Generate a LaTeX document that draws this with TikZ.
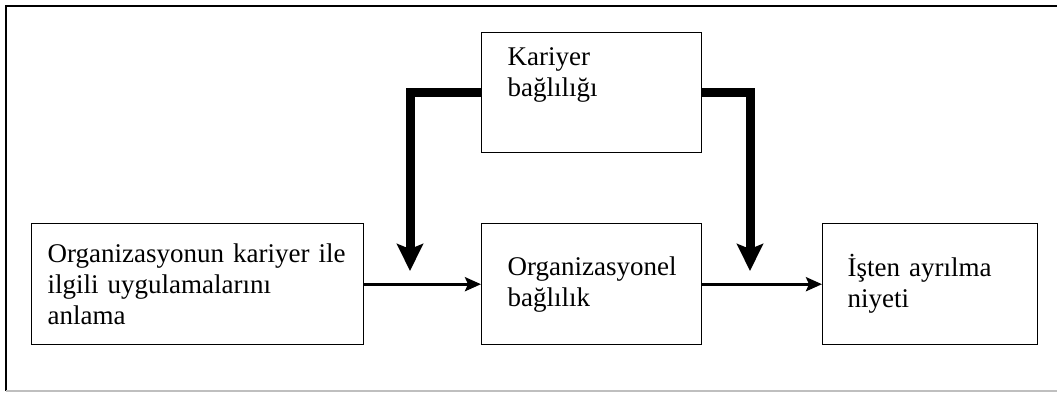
\documentclass[tikz,border=0pt]{standalone}
\usepackage{fontspec}
\setmainfont{Liberation Serif}
\usetikzlibrary{arrows.meta}

\begin{document}
\begin{tikzpicture}[x=0.5pt, y=-0.5pt,
    font=\fontsize{13.5}{15.5}\selectfont,
    box/.style={draw, line width=0.7pt, minimum height=60.5pt, align=left, anchor=north west},
    flow/.style={line width=1.5pt, -{Stealth[length=8pt, width=7pt, inset=1.5pt]}},
    heavy/.style={line width=4.5pt, -{Stealth[length=13.5pt, width=13pt, inset=2.5pt]}}]

  \useasboundingbox (0,0) rectangle (1057,392);

  % frame
  \draw[line width=0.8pt] (6,391) -- (6,6) -- (1057,6);
  \draw[line width=0.8pt, black!25] (6,391) -- (1057,391);

  \node[box, minimum height=60pt, text width=84pt, inner xsep=13pt] (kariyer) at (481,32)
    {Kariyer\\bağlılığı\\ \strut};

  \node[box, text width=150pt, inner xsep=8pt] (anlama) at (31,223)
    {Organizasyonun kariyer ile\\ilgili uygulamalarını\\anlama};
  \node[box, text width=84pt, inner xsep=13pt] (orgbag) at (481,223)
    {Organizasyonel\\bağlılık};
  \node[box, text width=82.5pt, inner xsep=12.5pt] (ayrilma) at (822,223)
    {İşten ayrılma\\niyeti};

  \coordinate (tipL) at (410,271);
  \coordinate (tipR) at (750,271);

  \draw[flow] (anlama.east) -- (orgbag.west);
  \draw[flow] (orgbag.east) -- (ayrilma.west);

  \draw[heavy] (kariyer.west) -| (tipL);
  \draw[heavy] (kariyer.east) -| (tipR);

\end{tikzpicture}
\end{document}
